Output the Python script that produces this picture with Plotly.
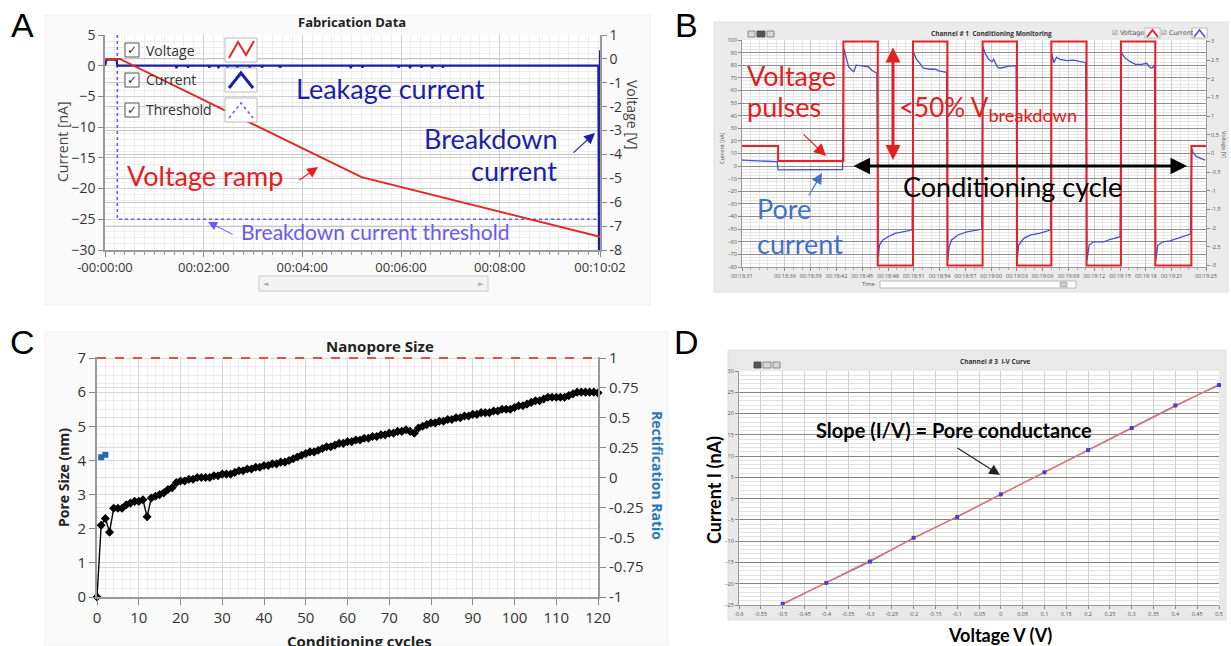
import numpy as np
import plotly.graph_objects as go

W, H = 1231, 646


def fx(p):
    return p / W


def fy(p):
    return 1 - p / H


# ------------------------------------------------------------------ data
# Panel A : fabrication (time in seconds)
A_TIME_TICKS = [0, 120, 240, 360, 480, 602]
A_TIME_LABELS = ["-00:00:00", "00:02:00", "00:04:00", "00:06:00", "00:08:00", "00:10:02"]
A_VOLT_T = [0, 18, 312, 600, 602]
A_VOLT_V = [0.0, 0.0, -4.95, -7.45, -7.45]
A_CUR_T = [0, 2, 14, 15,
           86, 87, 88, 100, 101, 102, 126, 127, 128, 137, 138, 139,
           148, 149, 150, 160, 161, 162, 175, 176, 177, 190, 191, 192,
           212, 213, 214, 298, 299, 300, 312, 313, 314, 356, 357, 358,
           370, 371, 372, 384, 385, 386, 397, 398, 399, 410, 411, 412,
           600, 601, 602]
A_CUR_I = [0.0, 1.0, 1.0, 0.0,
           0.0, -0.4, 0.0, 0.0, -0.3, 0.0, 0.0, -0.3, 0.0, 0.0, -0.4, 0.0,
           0.0, -0.2, 0.0, 0.0, -0.3, 0.0, 0.0, -0.4, 0.0, 0.0, -0.3, 0.0,
           0.0, -0.3, 0.0, 0.0, -0.4, 0.0, 0.0, -0.3, 0.0, 0.0, -0.3, 0.0,
           0.0, -0.4, 0.0, 0.0, -0.3, 0.0, 0.0, -0.4, 0.0, 0.0, -0.3, 0.0,
           0.0, -40.0, 2.5]
A_THR_T = [15, 15, 602]
A_THR_I = [5, -25, -25]
A_VOLT_TICKS = ["1", "0", "-1", "-2", "-3", "-4", "-5", "-6", "-7", "-8"]

# Panel B : conditioning monitoring (seconds after 00:18:31)
B_TIME_TICKS = [0, 5, 8, 11, 14, 17, 20, 23, 26, 29, 32, 35, 38, 41, 44, 47, 50, 54]
B_TIME_LABELS = ["00:18:31", "00:18:36", "00:18:39", "00:18:42", "00:18:45", "00:18:48",
                 "00:18:51", "00:18:54", "00:18:57", "00:19:00", "00:19:03", "00:19:06",
                 "00:19:09", "00:19:12", "00:19:15", "00:19:18", "00:19:21", "00:19:25"]
B_VOLT_T = [0, 4.2, 11.8, 15.8, 19.9, 23.9, 28.0, 32.0, 36.0, 40.1, 44.1, 48.1, 52.3, 54]
B_VOLT_V = [0.2, -0.2, 3, -3, 3, -3, 3, -3, 3, -3, 3, -3, 0.2, 0.2]
B_CUR_T = [0, 1, 2, 3, 4.1, 4.2, 6, 8, 10, 11.7,
           11.85, 12.2, 12.4, 12.8, 13.0, 13.3, 14.1, 14.7, 15.1, 15.7,
           15.85, 16.0, 16.4, 17.0, 17.8, 18.8, 19.8,
           19.95, 20.3, 20.7, 21.1, 21.9, 22.5, 22.9, 23.8,
           23.95, 24.1, 24.4, 25.1, 26.3, 27.9,
           28.05, 28.3, 28.7, 29.1, 29.3, 29.7, 30.0, 30.6, 31.2, 31.9,
           32.05, 32.2, 32.8, 33.6, 34.6, 35.9,
           36.05, 36.3, 36.6, 37.0, 37.8, 38.6, 39.4, 40.0,
           40.15, 40.4, 40.9, 42.1, 42.9, 44.0,
           44.15, 44.6, 45.2, 45.8, 46.5, 47.1, 47.4, 47.7, 48.0,
           48.15, 48.4, 49.0, 49.8, 50.4, 51.1, 52.2,
           52.35, 52.5, 52.9, 53.9]
B_CUR_I = [4.8, 4.5, 4.2, 3.9, 3.5, -3.0, -3.0, -2.8, -2.9, -2.7,
           93.4, 84, 78.8, 76, 74.9, 80, 79.6, 78.8, 76, 73.6,
           -71.8, -62.6, -58.6, -56, -53.3, -52, -50.7,
           90.7, 84.7, 81.5, 77.6, 76.8, 76.9, 75.5, 74.4,
           -74.5, -63.9, -58.6, -54.6, -52, -50.1,
           94.7, 89.4, 84.7, 82.8, 84.7, 78.8, 77.6, 78.8, 79.4, 79.7,
           -73, -62.6, -57.3, -54.6, -53.3, -50.7,
           89.4, 82, 86.3, 84.7, 83.6, 84.1, 82.8, 82,
           -74.5, -62.6, -60, -60, -58, -56,
           89.9, 85.5, 82.8, 80.7, 80.7, 81.5, 78.8, 77.6, 80,
           -74.5, -62.6, -60, -59.3, -58, -56.3, -53.9,
           14.1, 10.7, 7.5, 4.8]
B_VOLT_TICKS = ["3", "2.5", "2", "1.5", "1", "0.5", "0", "-0.5", "-1", "-1.5",
                "-2", "-2.5", "-3"]

# Panel C : nanopore size per conditioning cycle
C_CYCLES = list(range(121))
C_PORE_NM = [
    0.00, 2.10, 2.30, 1.90, 2.60, 2.60, 2.60, 2.70, 2.75, 2.80,
    2.80, 2.85, 2.35, 2.90, 2.95, 3.00, 3.05, 3.15, 3.20, 3.35,
    3.40, 3.40, 3.45, 3.45, 3.50, 3.50, 3.50, 3.50, 3.55, 3.55,
    3.60, 3.60, 3.60, 3.65, 3.70, 3.70, 3.75, 3.75, 3.80, 3.80,
    3.85, 3.85, 3.90, 3.90, 3.95, 3.95, 4.00, 4.05, 4.10, 4.15,
    4.20, 4.25, 4.25, 4.30, 4.35, 4.40, 4.40, 4.45, 4.50, 4.50,
    4.55, 4.55, 4.60, 4.60, 4.65, 4.65, 4.70, 4.70, 4.75, 4.75,
    4.80, 4.80, 4.85, 4.85, 4.90, 4.85, 4.80, 4.95, 5.00, 5.05,
    5.10, 5.10, 5.15, 5.15, 5.20, 5.20, 5.25, 5.25, 5.30, 5.30,
    5.35, 5.35, 5.40, 5.40, 5.40, 5.45, 5.45, 5.50, 5.50, 5.50,
    5.55, 5.60, 5.60, 5.65, 5.70, 5.75, 5.75, 5.80, 5.85, 5.85,
    5.85, 5.85, 5.85, 5.90, 5.95, 6.00, 6.00, 6.00, 6.00, 6.00,
    5.98]
C_TARGET_NM = 7.0
C_RECT_CYCLES = [1, 2]
C_RECT_RATIO = [0.17, 0.19]
C_RATIO_TICKS = ["1", "0.75", "0.5", "0.25", "0", "-0.25", "-0.5", "-0.75", "-1"]

# Panel D : I-V curve
D_VOLT = [-0.5, -0.4, -0.3, -0.2, -0.1, 0.0, 0.1, 0.2, 0.3, 0.4, 0.5]
D_CURR = [-24.7, -19.8, -14.8, -9.2, -4.3, 1.0, 6.2, 11.4, 16.6, 21.9, 26.7]
D_XTICKS = ["-0.6", "-0.55", "-0.5", "-0.45", "-0.4", "-0.35", "-0.3", "-0.25", "-0.2",
            "-0.15", "-0.1", "-0.05", "0", "0.05", "0.1", "0.15", "0.2", "0.25", "0.3",
            "0.35", "0.4", "0.45", "0.5"]

# ------------------------------------------------------------------ style
RED = "#e3201f"
NAVY = "#1e1ea6"
PORE_BLUE = "#4472c4"
THR = "#6a5af0"
UI = "Open Sans"
TXT = "Lato"

fig = go.Figure()

# Panel A traces
fig.add_trace(go.Scatter(x=A_THR_T, y=A_THR_I, mode="lines", xaxis="x", yaxis="y",
                         line=dict(color=THR, width=1.6, dash="dot")))
fig.add_trace(go.Scatter(x=A_CUR_T, y=A_CUR_I, mode="lines", xaxis="x", yaxis="y",
                         line=dict(color=NAVY, width=2.2)))
fig.add_trace(go.Scatter(x=A_VOLT_T, y=A_VOLT_V, mode="lines", xaxis="x", yaxis="y2",
                         line=dict(color="#e02a2a", width=2)))

# Panel B traces
fig.add_trace(go.Scatter(x=B_CUR_T, y=B_CUR_I, mode="lines", xaxis="x2", yaxis="y3",
                         line=dict(color="#4650d0", width=1.3)))
fig.add_trace(go.Scatter(x=B_VOLT_T, y=B_VOLT_V, mode="lines", xaxis="x2", yaxis="y4",
                         line=dict(color="#e8202a", width=2, shape="hv")))

# Panel C traces
fig.add_trace(go.Scatter(x=[C_CYCLES[0], C_CYCLES[-1]], y=[C_TARGET_NM, C_TARGET_NM],
                         mode="lines", xaxis="x3", yaxis="y5",
                         line=dict(color="#d9534f", width=2, dash="dash")))
fig.add_trace(go.Scatter(x=C_CYCLES, y=C_PORE_NM, mode="lines+markers", xaxis="x3", yaxis="y5",
                         line=dict(color="black", width=1.4),
                         marker=dict(symbol="diamond", size=7, color="black"),
                         cliponaxis=False))
fig.add_trace(go.Scatter(x=C_RECT_CYCLES, y=C_RECT_RATIO, mode="markers", xaxis="x3", yaxis="y6",
                         marker=dict(symbol="square", size=6, color="#1f6db0"),
                         cliponaxis=False))

# Panel D traces
slope, icpt = np.polyfit(D_VOLT, D_CURR, 1)
fit_x = [D_VOLT[0], D_VOLT[-1]]
fit_y = [slope * v + icpt for v in fit_x]
fig.add_trace(go.Scatter(x=D_VOLT, y=D_CURR, mode="lines", xaxis="x4", yaxis="y7",
                         line=dict(color="#6a5fd8", width=1.2)))
fig.add_trace(go.Scatter(x=fit_x, y=fit_y, mode="lines", xaxis="x4", yaxis="y7",
                         line=dict(color="#ec7a62", width=1.2)))
fig.add_trace(go.Scatter(x=D_VOLT, y=D_CURR, mode="markers", xaxis="x4", yaxis="y7",
                         marker=dict(symbol="square", size=4, color="#4b3fc8"),
                         cliponaxis=False))


def axis(**kw):
    base = dict(showline=True, linecolor="#9a9a9a", linewidth=1.5, zeroline=False,
                ticks="outside", tickcolor="#888", automargin=False, fixedrange=True)
    base.update(kw)
    return base


small = dict(size=5.5, color="#555", family=UI)

fig.update_layout(
    width=W, height=H, margin=dict(l=0, r=0, t=0, b=0, pad=0),
    paper_bgcolor="white", plot_bgcolor="rgba(0,0,0,0)",
    template="none", showlegend=False, font=dict(family=UI, color="#333"),
    # ---- Panel A
    xaxis=axis(domain=[fx(105), fx(600)], anchor="y", range=[0, 602],
               tickmode="array", tickvals=A_TIME_TICKS, ticktext=A_TIME_LABELS,
               ticklen=5, tickfont=dict(size=13, color="#333"),
               showgrid=True, gridcolor="#cfcfcf", gridwidth=1,
               minor=dict(tickmode="linear", tick0=0, dtick=12, ticks="outside", ticklen=3,
                          tickcolor="#999", showgrid=True, gridcolor="#ededed")),
    yaxis=axis(domain=[fy(250), fy(35)], anchor="x", range=[-30, 5], tick0=0, dtick=5,
               ticklen=5, tickfont=dict(size=14, color="#333"),
               showgrid=True, gridcolor="#cfcfcf",
               minor=dict(tick0=0, dtick=1, showgrid=True, gridcolor="#ededed")),
    yaxis2=axis(overlaying="y", side="right", anchor="x", range=[-8, 1],
                tickmode="array", tickvals=[float(t) for t in A_VOLT_TICKS], ticktext=A_VOLT_TICKS,
                ticklen=5, tickfont=dict(size=14, color="#333"),
                showgrid=True, gridcolor="#c6c6c6"),
    # ---- Panel B
    xaxis2=axis(domain=[fx(742), fx(1206)], anchor="y3", range=[0, 54],
                tickmode="array", tickvals=B_TIME_TICKS, ticktext=B_TIME_LABELS,
                ticklen=3, tickfont=small, linewidth=1,
                showgrid=True, gridcolor="#cdcdcd",
                minor=dict(tickmode="linear", tick0=0, dtick=1, ticks="outside", ticklen=2,
                           tickcolor="#aaa", showgrid=True, gridcolor="#e6e6e6")),
    yaxis3=axis(domain=[fy(267), fy(40)], anchor="x2", range=[-80, 100], tick0=0, dtick=10,
                ticklen=3, tickfont=small, linewidth=1,
                showgrid=True, gridcolor="#8f8f8f",
                minor=dict(tick0=0, dtick=2.5, showgrid=True, gridcolor="#e8e8e8")),
    yaxis4=axis(overlaying="y3", side="right", anchor="x2", range=[-3.04, 3.04],
                tickmode="array", tickvals=[float(t) for t in B_VOLT_TICKS], ticktext=B_VOLT_TICKS,
                ticklen=3, tickfont=small, linewidth=1, showgrid=False),
    # ---- Panel C
    xaxis3=axis(domain=[fx(97), fx(598)], anchor="y5", range=[0, 120], tick0=0, dtick=10,
                ticklen=6, tickfont=dict(size=15, color="#333"), linewidth=2,
                showgrid=True, gridcolor="#d6d6d6",
                minor=dict(tick0=0, dtick=2, showgrid=True, gridcolor="#eeeeee")),
    yaxis5=axis(domain=[fy(597), fy(357)], anchor="x3", range=[0, 7.03],
                tickmode="array", tickvals=list(range(8)), ticklen=6,
                tickfont=dict(size=15, color="#333"), linewidth=2,
                showgrid=True, gridcolor="#d6d6d6",
                minor=dict(tick0=0, dtick=0.25, showgrid=True, gridcolor="#eeeeee")),
    yaxis6=axis(overlaying="y5", side="right", anchor="x3", range=[-1, 1 + 2 * 0.03 / 7],
                tickmode="array", tickvals=[float(t) for t in C_RATIO_TICKS], ticktext=C_RATIO_TICKS,
                ticklen=6, tickfont=dict(size=15, color="#333"), linewidth=2,
                showgrid=True, gridcolor="#dcdcdc"),
    # ---- Panel D
    xaxis4=axis(domain=[fx(739), fx(1219)], anchor="y7", range=[-0.6, 0.5],
                tickmode="array", tickvals=[float(t) for t in D_XTICKS], ticktext=D_XTICKS,
                ticklen=3, tickfont=small, linewidth=1,
                showgrid=True, gridcolor="#d2d2d2"),
    yaxis7=axis(domain=[fy(605), fy(371)], anchor="x4", range=[-25, 30], tick0=0, dtick=5,
                ticklen=3, tickfont=small, linewidth=1,
                showgrid=True, gridcolor="#85857a",
                minor=dict(tick0=0, dtick=1, showgrid=True, gridcolor="#e2e2e2")),
)

# ------------------------------------------------------------------ shapes
shapes = []


def rect(x0, y0, x1, y1, fill, line="rgba(0,0,0,0)", width=1, layer="below"):
    shapes.append(dict(type="rect", xref="paper", yref="paper", x0=fx(x0), x1=fx(x1),
                       y0=fy(y1), y1=fy(y0), fillcolor=fill,
                       line=dict(color=line, width=width), layer=layer))


def poly(points, color, width, dash="solid", layer="above"):
    path = "M" + " L".join(f"{fx(x):.5f},{fy(y):.5f}" for x, y in points)
    shapes.append(dict(type="path", xref="paper", yref="paper", path=path,
                       line=dict(color=color, width=width, dash=dash), layer=layer))


# panel backgrounds
rect(45, 15, 650, 305, "#fafafa", "#f0f0f0")
rect(714, 22, 1228, 292, "#ebebeb", "#e0e0e0")
rect(45, 332, 668, 646, "#fafafa", "#f0f0f0")
rect(728, 350, 1226, 620, "#e9e9e9", "#e0e0e0")
# plot areas
rect(105, 35, 600, 250, "white")
rect(742, 40, 1206, 267, "white")
rect(97, 357, 598, 597, "white")
rect(739, 371, 1219, 605, "white")

# Panel A legend
for yc in (50, 80, 110):
    rect(125, yc - 7, 139, yc + 7, "white", "#555", 1, layer="above")
rect(225, 38, 257, 62, "white", "#bbbbbb", 1, layer="above")
rect(225, 68, 257, 92, "white", "#bbbbbb", 1, layer="above")
rect(225, 98, 257, 122, "white", "#bbbbbb", 1, layer="above")
poly([(229, 58), (238, 42), (246, 55), (254, 41)], "#e02a2a", 2)
poly([(229, 88), (241, 73), (253, 88)], NAVY, 3)
poly([(229, 118), (241, 103), (253, 118)], THR, 1.5, dash="dot")
# Panel A scrollbar
rect(259, 276, 488, 291, "#f4f4f4", "#c8c8c8", 1, layer="above")

# Panel B legend icons, toolbar, scrollbar
rect(1145, 28, 1160, 38, "white", "#aaaaaa", 0.8, layer="above")
poly([(1147, 37), (1152.5, 30), (1158, 37)], "#e8202a", 2)
rect(1192, 28, 1207, 38, "white", "#aaaaaa", 0.8, layer="above")
poly([(1194, 37), (1199.5, 30), (1205, 37)], "#4650d0", 1.5)
rect(748, 31, 755, 37, "#d8d8d8", "#777", 0.8, layer="above")
rect(757, 31, 765, 37, "#555555", "#444", 0.8, layer="above")
rect(767, 31, 774, 37, "#d8d8d8", "#777", 0.8, layer="above")
rect(880, 281, 1076, 288, "white", "#aaaaaa", 0.8, layer="above")
rect(1060, 282, 1067, 287, "#cccccc", "#999", 0.6, layer="above")

# Panel D toolbar
rect(754, 362, 761, 368, "#555555", "#444", 0.8, layer="above")
rect(763, 362, 771, 368, "#d8d8d8", "#777", 0.8, layer="above")
rect(773, 362, 780, 368, "#d8d8d8", "#777", 0.8, layer="above")

fig.update_layout(shapes=shapes)

# ------------------------------------------------------------------ annotations
anns = []


def text(t, x, y, size, color="#222", family=TXT, xanchor="center", yanchor="middle",
         angle=0):
    anns.append(dict(text=t, x=fx(x), y=fy(y), xref="paper", yref="paper", showarrow=False,
                     font=dict(size=size, color=color, family=family), xanchor=xanchor,
                     yanchor=yanchor, textangle=angle, borderpad=0, borderwidth=0))


def arrow(xh, yh, xt, yt, color, width, size=1.0, both=False):
    a = dict(text="", x=fx(xh), y=fy(yh), xref="paper", yref="paper", ax=xt - xh, ay=yt - yh,
             axref="pixel", ayref="pixel", showarrow=True, arrowhead=2, arrowsize=size,
             arrowwidth=width, arrowcolor=color, standoff=0, startstandoff=0)
    if both:
        a.update(arrowside="end+start", startarrowhead=2, startarrowsize=size)
    anns.append(a)


# panel letters
for letter, x, y in (("A", 22, 25), ("B", 686, 25), ("C", 22, 342), ("D", 686, 342)):
    text(letter, x, y, 34, "black", "Liberation Sans")

# Panel A texts
text("<b>Fabrication Data</b>", 352, 22, 13, "#222", UI)
text("Current [nA]", 62, 142, 14, "#444", UI, angle=-90)
text("Voltage [V]", 633, 115, 14, "#444", UI, angle=90)
for yc, lab in ((50, "Voltage"), (80, "Current"), (110, "Threshold")):
    text("✓", 132, yc, 12, "#333", "DejaVu Sans")
    text(lab, 146, yc, 14, "#333", UI, xanchor="left")
text("Leakage current", 390, 88, 27, NAVY)
text("Breakdown", 491, 138, 27, NAVY)
text("current", 514, 171, 27, NAVY)
arrow(595, 133, 572, 154, NAVY, 1.2, 1.8)
text("Voltage ramp", 205, 175, 27, RED)
arrow(318, 167, 298, 181, RED, 1.2, 1.8)
text("Breakdown current threshold", 375, 231, 21, THR)
arrow(208, 222, 234, 235, THR, 1.0, 1.8)
text("◄", 266, 283.5, 7, "#aaa", "DejaVu Sans")
text("►", 481, 283.5, 7, "#aaa", "DejaVu Sans")

# Panel B texts
text("<b>Channel # 1  Conditioning Monitoring</b>", 991, 33, 6.5, "#333", UI)
text("☑ Voltage", 1112, 33, 6.5, "#555", "DejaVu Sans", xanchor="left")
text("☑ Current", 1161, 33, 6.5, "#555", "DejaVu Sans", xanchor="left")
text("Current [nA]", 722, 148, 5.5, "#555", UI, angle=-90)
text("Voltage [V]", 1224, 145, 5.5, "#555", UI, angle=90)
text("Time", 868, 284, 5.5, "#555", UI)
text("Voltage", 747, 75.5, 27, RED, xanchor="left")
text("pulses", 747, 106.5, 27, RED, xanchor="left")
arrow(826, 156, 802, 133, RED, 1.2, 2.0)
text("<50% V<sub>breakdown</sub>", 899, 109, 26, RED, xanchor="left")
arrow(893, 160, 893, 46, RED, 3, 1.0, both=True)
arrow(1187, 166, 852, 166, "black", 3, 1.1, both=True)
text("Conditioning cycle", 1013, 186, 27, "black")
text("Pore", 757, 209, 27, PORE_BLUE, xanchor="left")
text("current", 757, 243, 27, PORE_BLUE, xanchor="left")
arrow(822, 173, 808, 197, PORE_BLUE, 1.2, 1.8)

# Panel C texts
text("<b>Nanopore Size</b>", 380, 346, 15, "#222", UI)
text("<b>Pore Size (nm)</b>", 63, 478, 14, "#222", UI, angle=-90)
text("<b>Rectification Ratio</b>", 658, 475, 14, "#2a7ab8", UI, angle=90)
text("<b>Conditioning cycles</b>", 359, 631, 15, "#222", UI, yanchor="top")

# Panel D texts
text("<b>Channel # 3  I-V Curve</b>", 995, 361, 6.5, "#333", UI)
text("<b>Slope (I/V) = Pore conductance</b>", 954, 430, 20, "black")
arrow(1000, 475, 956, 447, "#222", 1.2, 1.8)
text("<b>Current I (nA)</b>", 714, 490, 18, "black", angle=-90)
text("<b>Voltage V (V)</b>", 1000, 635, 18, "black")

fig.update_layout(annotations=anns)

fig.write_html("out.html")
